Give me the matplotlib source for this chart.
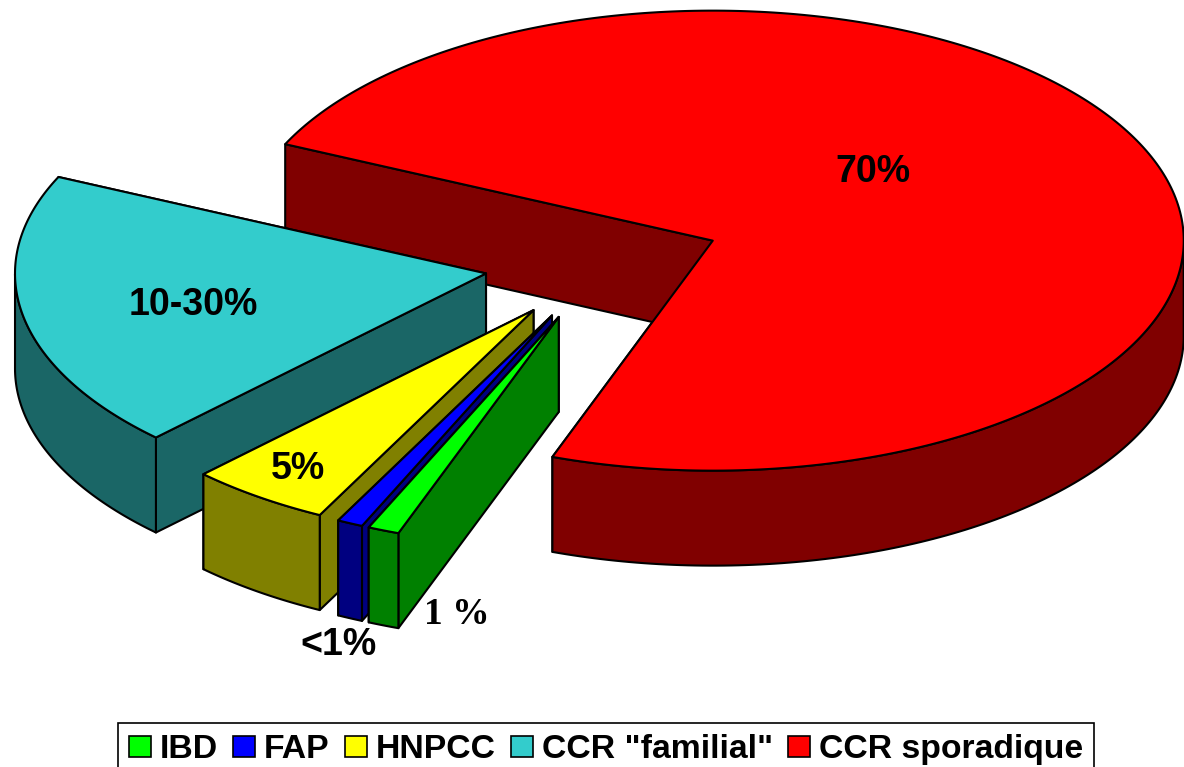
# -*- coding: utf-8 -*-
import numpy as np
from matplotlib import pyplot
from matplotlib.patches import Patch, Polygon

# going clockwise from the upper left edge of the red slice
names = ["CCR sporadique", "IBD", "FAP", "HNPCC", 'CCR "familial"']
shares = [73.64, 1.08, 0.89, 4.86, 19.53]
legend_names = ["IBD", "FAP", "HNPCC", 'CCR "familial"', "CCR sporadique"]
top_colors = {"CCR sporadique": "#FF0000", "IBD": "#00FF00", "FAP": "#0000FF",
              "HNPCC": "#FFFF00", 'CCR "familial"': "#33CCCC"}
side_colors = {"CCR sporadique": "#800000", "IBD": "#008000", "FAP": "#000080",
               "HNPCC": "#808000", 'CCR "familial"': "#1A6666"}

CENTER = (603, 263)
RX, RY = 471, 230
DEPTH = 95
EXPLODE = 0.2525
START = 155.2


def slice_angles():
    spans = np.array(shares) / sum(shares) * 360
    angles = {}
    t = START
    for name, span in zip(names, spans):
        angles[name] = (t - span, t)
        t = t - span
    return angles


def draw_slice(ax, name, t0, t1):
    mid = np.radians((t0 + t1) / 2)
    ax_x = CENTER[0] + EXPLODE * RX * np.cos(mid)
    ax_y = CENTER[1] - EXPLODE * RY * np.sin(mid)

    t = np.radians(np.linspace(t0, t1, 300))
    xs = ax_x + RX * np.cos(t)
    ys = ax_y - RY * np.sin(t)
    top = np.column_stack([np.r_[ax_x, xs], np.r_[ax_y, ys]])
    edge = dict(edgecolor="black", linewidth=1.5, joinstyle="round")

    # flat cut faces first, the top hides the one that faces away
    for i in (0, -1):
        face = [(ax_x, ax_y), (xs[i], ys[i]), (xs[i], ys[i] + DEPTH), (ax_x, ax_y + DEPTH)]
        ax.add_patch(Polygon(face, facecolor=side_colors[name], **edge))

    # outer wall, only the part turned to the viewer
    front = np.sin(t) <= 0
    if front.any():
        fx, fy = xs[front], ys[front]
        wall = np.column_stack([np.r_[fx, fx[::-1]], np.r_[fy, fy[::-1] + DEPTH]])
        ax.add_patch(Polygon(wall, facecolor=side_colors[name], **edge))

    ax.add_patch(Polygon(top, facecolor=top_colors[name], **edge))


def main():
    fig = pyplot.figure(figsize=[11.84, 7.67], dpi=100)
    ax = fig.add_axes([0, 0, 1, 1])
    ax.set_xlim(0, 1184)
    ax.set_ylim(767, 0)
    ax.axis("off")

    angles = slice_angles()
    for name in ["CCR sporadique", 'CCR "familial"', "HNPCC", "FAP", "IBD"]:
        draw_slice(ax, name, *angles[name])

    bold = dict(family="Liberation Sans", weight="bold", size=27, color="black",
                ha="center", va="center")
    ax.text(873, 172, "70%", **bold)
    ax.text(193, 305, "10-30%", **bold)
    ax.text(298, 469, "5%", **bold)
    ax.text(339, 645, "<1%", **bold)
    ax.text(457, 615, "1 %", family="Liberation Serif", weight="bold", size=27,
            ha="center", va="center")

    handles = [Patch(facecolor=top_colors[n], edgecolor="black", linewidth=1.2)
               for n in legend_names]
    leg = ax.legend(handles, legend_names, ncol=5, loc="upper center",
                    bbox_to_anchor=(606 / 1184, 1 - 723 / 767), frameon=True, fancybox=False,
                    edgecolor="black", framealpha=1,
                    prop=dict(family="Liberation Sans", weight="bold", size=24.3),
                    handlelength=0.65, handleheight=0.55, handletextpad=0.27,
                    columnspacing=0.44, borderpad=0.34, borderaxespad=0)
    leg.get_frame().set_linewidth(1.2)

    fig.savefig("out.png", dpi=100)


if __name__ == '__main__':
    main()
